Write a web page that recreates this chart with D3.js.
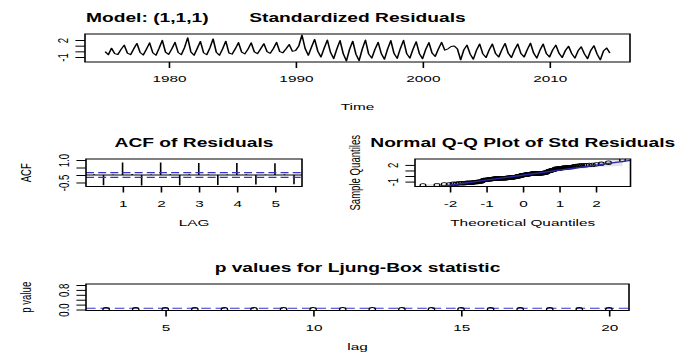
<!DOCTYPE html>
<html>
<head>
<meta charset="utf-8">
<script src="https://cdn.jsdelivr.net/npm/d3@7"></script>
<style>
    body { margin: 0; background: #fff; }
    svg { display: block; }
</style>
</head>
<body>
<svg id="chart" width="684" height="356"></svg>
<script>

/////// DATA
// standardized residuals, quarterly from 1975 Q1
const startYear = 1975;
const frequency = 4;
const stdResiduals = [
    -0.05, -0.60, 0.55, -0.40,
    -0.55, 0.35, 1.10, -0.30,
    -0.60, 0.45, 1.40, -0.20,
    -0.65, 0.40, 1.50, -0.25,
    -0.70, 0.55, 1.95, -0.15,
    -0.55, 0.45, 1.60, -0.20,
    -0.60, 0.65, 2.40, -0.10,
    -0.70, 0.50, 1.75, -0.25,
    -0.60, 0.60, 2.20, -0.15,
    -0.70, 0.45, 1.80, -0.30,
    -0.50, 0.45, 1.55, -0.15,
    -0.45, 0.40, 1.50, -0.10,
    -0.40, 0.45, 1.35, -0.05,
    -0.35, 0.50, 1.60, -0.05,
    -0.25, 0.45, 1.20, 0.00,
    0.15, 0.95, 2.88, 0.50,
    -0.70, 0.75, 2.10, 0.00,
    -1.00, 0.55, 2.00, -0.20,
    -1.30, 0.45, 1.90, -0.40,
    -1.70, 0.35, 1.80, -0.50,
    -1.65, 0.40, 2.00, -0.45,
    -1.20, 0.35, 1.60, -0.40,
    -1.40, 0.45, 1.90, -0.35,
    -1.25, 0.50, 1.95, -0.40,
    -1.20, 0.40, 1.70, -0.40,
    -1.30, 0.35, 1.55, -0.30,
    -0.90, 0.45, 1.60, 0.20,
    0.45, 0.85, 0.95, 0.40,
    -1.50, 0.25, 1.10, -0.50,
    -1.40, 0.20, 1.30, -0.45,
    -1.10, 0.25, 1.30, -0.40,
    -1.00, 0.30, 1.40, -0.35,
    -1.10, 0.25, 1.30, -0.40,
    -1.00, 0.30, 1.45, -0.30,
    -1.20, 0.20, 1.30, -0.40,
    -1.00, 0.25, 1.10, -0.35,
    -1.10, 0.15, 0.90, -0.40,
    -1.20, 0.10, 0.80, -0.45,
    -1.30, 0.15, 1.00, -0.50,
    -1.50, 0.05, 0.60, -0.30
];
const timeTicks = [1980, 1990, 2000, 2010];
const resTicks = [-1, 0, 1, 2];
const resTickLabels = ["-1", "", "", "2"];

// ACF of residuals (lag in years)
const acfLags = [0.25, 0.5, 0.75, 1, 1.25, 1.5, 1.75, 2, 2.25, 2.5, 2.75,
                 3, 3.25, 3.5, 3.75, 4, 4.25, 4.5, 4.75, 5, 5.25, 5.5];
const acfValues = [0.05, -0.68, 0.03, 0.84, 0.06, -0.70, 0.04, 0.84, 0.05, -0.68, 0.05,
                   0.80, 0.04, -0.66, 0.03, 0.80, 0.05, -0.64, 0.04, 0.78, 0.05, -0.62];
const acfBound = 0.16;
const acfXTicks = [1, 2, 3, 4, 5];
const acfYTicks = [-0.5, 0, 0.5, 1];
const acfYLabels = ["-0.5", "", "", "1.0"];

// normal Q-Q
const qqXTicks = [-2, -1, 0, 1, 2];
const qqYTicks = [-1, 0, 1, 2];
const qqYLabels = ["-1", "", "", "2"];

// Ljung-Box
const lbLags = [3, 4, 5, 6, 7, 8, 9, 10, 11, 12, 13, 14, 15, 16, 17, 18, 19, 20];
const lbPValues = [0, 0, 0, 0, 0, 0, 0, 0, 0, 0, 0, 0, 0, 0, 0, 0, 0, 0];
const lbLevel = 0.05;
const lbXTicks = [5, 10, 15, 20];
const lbYTicks = [0, 0.2, 0.4, 0.6, 0.8, 1];
const lbYLabels = ["0.0", "", "", "", "0.8", ""];

/////// LAYOUT
// the picture is stretched sideways, so everything is drawn narrow and scaled back
const SX = 1.6;
const px = v => v / SX;
const FONT = '"Liberation Sans", Arial, sans-serif';
const FS = 9.6;
const FT = 12;
const BLUE = "#3434cc";

const BOX_RES = {x0: 85, x1: 630, y0: 34, y1: 62};
const BOX_ACF = {x0: 86, x1: 302, y0: 159, y1: 186.5};
const BOX_QQ = {x0: 415, x1: 630.5, y0: 159, y1: 186.5};
const BOX_LB = {x0: 86, x1: 629, y0: 284, y1: 310.5};

const svg = d3.select("#chart");
const root = svg.append("g").attr("transform", `scale(${SX},1)`);
let clipCount = 0;

function stretch(d) {
    const r = d[1] - d[0];
    return [d[0] - 0.04 * r, d[1] + 0.04 * r];
}

function panel(box, xDomain, yDomain) {
    const g = root.append("g");
    const x = d3.scaleLinear().domain(stretch(xDomain)).range([px(box.x0), px(box.x1)]);
    const y = d3.scaleLinear().domain(stretch(yDomain)).range([box.y1, box.y0]);
    const id = "clip" + (clipCount++);
    g.append("clipPath").attr("id", id).append("rect")
        .attr("x", px(box.x0)).attr("y", box.y0)
        .attr("width", px(box.x1 - box.x0)).attr("height", box.y1 - box.y0);
    const plot = g.append("g").attr("clip-path", `url(#${id})`);
    return {g, x, y, plot, box};
}

function drawBox(p) {
    p.g.append("rect")
        .attr("x", px(p.box.x0)).attr("y", p.box.y0)
        .attr("width", px(p.box.x1 - p.box.x0)).attr("height", p.box.y1 - p.box.y0)
        .attr("fill", "none").attr("stroke", "#000").attr("stroke-width", 1);
}

function bottomAxis(p, ticks, labels) {
    p.g.append("g")
        .attr("transform", `translate(0,${p.box.y1})`)
        .call(d3.axisBottom(p.x).tickValues(ticks).tickSize(6).tickPadding(7.2)
            .tickFormat((d, i) => labels ? labels[i] : d))
        .attr("font-size", FS).attr("font-family", FONT)
        .call(a => a.select(".domain").remove());
}

function leftAxis(p, ticks, labels) {
    p.g.append("g")
        .attr("transform", `translate(${px(p.box.x0)},0)`)
        .call(d3.axisLeft(p.y).tickValues(ticks).tickSize(6)
            .tickFormat((d, i) => labels[i]))
        .attr("font-size", FS).attr("font-family", FONT)
        .call(a => a.select(".domain").remove())
        .call(a => a.selectAll("text")
            .attr("transform", "rotate(-90)")
            .attr("x", 0).attr("y", -10.9).attr("dy", null)
            .attr("text-anchor", "middle"));
}

function title(p, txt) {
    root.append("text")
        .attr("x", px((p.box.x0 + p.box.x1) / 2)).attr("y", p.box.y0 - 12)
        .attr("text-anchor", "middle")
        .attr("font-family", FONT).attr("font-size", FT).attr("font-weight", "bold")
        .text(txt);
}

function xLabel(p, txt, gap) {
    root.append("text")
        .attr("x", px((p.box.x0 + p.box.x1) / 2)).attr("y", p.box.y1 + (gap || 40))
        .attr("text-anchor", "middle")
        .attr("font-family", FONT).attr("font-size", FS)
        .text(txt);
}

function yLabel(p, txt) {
    root.append("text")
        .attr("transform", `translate(${px(p.box.x0 - 61) + 3.45},${(p.box.y0 + p.box.y1) / 2}) rotate(-90)`)
        .attr("text-anchor", "middle")
        .attr("font-family", FONT).attr("font-size", FS)
        .text(txt);
}

/////// STANDARDIZED RESIDUALS
const times = stdResiduals.map((d, i) => startYear + i / frequency);
const res = panel(BOX_RES, d3.extent(times), d3.extent(stdResiduals));

res.plot.append("path")
    .datum(stdResiduals)
    .attr("fill", "none").attr("stroke", "#000").attr("stroke-width", 1)
    .attr("stroke-linejoin", "round")
    .attr("d", d3.line().x((d, i) => res.x(times[i])).y(d => res.y(d)));

bottomAxis(res, timeTicks);
leftAxis(res, resTicks, resTickLabels);
drawBox(res);
title(res, "Standardized Residuals");
root.append("text")
    .attr("x", px(BOX_RES.x0 + 1)).attr("y", BOX_RES.y0 - 12)
    .attr("font-family", FONT).attr("font-size", FT).attr("font-weight", "bold")
    .text("Model: (1,1,1)");
xLabel(res, "Time", 48);

/////// ACF
const acfLow = Math.min(d3.min(acfValues), -acfBound);
const acf = panel(BOX_ACF, d3.extent(acfLags), [acfLow, 1]);

acf.plot.selectAll("line.spike")
    .data(acfValues)
    .join("line")
    .attr("class", "spike")
    .attr("x1", (d, i) => acf.x(acfLags[i])).attr("x2", (d, i) => acf.x(acfLags[i]))
    .attr("y1", acf.y(0)).attr("y2", d => acf.y(d))
    .attr("stroke", "#000").attr("stroke-width", 1);

acf.plot.append("line")
    .attr("x1", px(BOX_ACF.x0)).attr("x2", px(BOX_ACF.x1))
    .attr("y1", acf.y(0)).attr("y2", acf.y(0))
    .attr("stroke", "#000").attr("stroke-width", 1);

acf.plot.selectAll("line.bound")
    .data([acfBound, -acfBound])
    .join("line")
    .attr("class", "bound")
    .attr("x1", px(BOX_ACF.x0)).attr("x2", px(BOX_ACF.x1))
    .attr("y1", d => acf.y(d)).attr("y2", d => acf.y(d))
    .attr("stroke", BLUE).attr("stroke-width", 1.1).attr("stroke-dasharray", "5,2.6");

bottomAxis(acf, acfXTicks);
leftAxis(acf, acfYTicks, acfYLabels);
drawBox(acf);
title(acf, "ACF of Residuals");
xLabel(acf, "LAG");
yLabel(acf, "ACF");

/////// NORMAL Q-Q
function qnorm(p) {
    const a = [-3.969683028665376e+01, 2.209460984245205e+02, -2.759285104469687e+02,
               1.383577518672690e+02, -3.066479806614716e+01, 2.506628277459239e+00];
    const b = [-5.447609879822406e+01, 1.615858368580409e+02, -1.556989798598866e+02,
               6.680131188771972e+01, -1.328068155288572e+01];
    const c = [-7.784894002430293e-03, -3.223964580411365e-01, -2.400758277161838e+00,
               -2.549732539343734e+00, 4.374664141464968e+00, 2.938163982698783e+00];
    const d = [7.784695709041462e-03, 3.224671290700398e-01, 2.445134137142996e+00,
               3.754408661907416e+00];
    const lo = 0.02425;
    let q, r;
    if (p < lo) {
        q = Math.sqrt(-2 * Math.log(p));
        return (((((c[0]*q+c[1])*q+c[2])*q+c[3])*q+c[4])*q+c[5]) / ((((d[0]*q+d[1])*q+d[2])*q+d[3])*q+1);
    }
    if (p > 1 - lo) {
        q = Math.sqrt(-2 * Math.log(1 - p));
        return -(((((c[0]*q+c[1])*q+c[2])*q+c[3])*q+c[4])*q+c[5]) / ((((d[0]*q+d[1])*q+d[2])*q+d[3])*q+1);
    }
    q = p - 0.5;
    r = q * q;
    return (((((a[0]*r+a[1])*r+a[2])*r+a[3])*r+a[4])*r+a[5])*q / (((((b[0]*r+b[1])*r+b[2])*r+b[3])*r+b[4])*r+1);
}
const dnorm = z => Math.exp(-z * z / 2) / Math.sqrt(2 * Math.PI);

const sorted = stdResiduals.slice().sort(d3.ascending);
const n = sorted.length;
const qqPoints = sorted.map((v, i) => {
    const pp = (i + 1 - 0.5) / n;
    return {p: pp, q: qnorm(pp), v: v};
});
const yq = [d3.quantile(sorted, 0.25), d3.quantile(sorted, 0.75)];
const xq = [qnorm(0.25), qnorm(0.75)];
const slope = (yq[1] - yq[0]) / (xq[1] - xq[0]);
const intercept = yq[0] - slope * xq[0];

const qq = panel(BOX_QQ, d3.extent(qqPoints, d => d.q), d3.extent(sorted));

qq.plot.append("path")
    .datum(qqPoints)
    .attr("fill", "#e4e4e4")
    .attr("d", d3.area()
        .x(d => qq.x(d.q))
        .y0(d => qq.y(intercept + slope * d.q - 1.96 * slope / dnorm(d.q) * Math.sqrt(d.p * (1 - d.p) / n)))
        .y1(d => qq.y(intercept + slope * d.q + 1.96 * slope / dnorm(d.q) * Math.sqrt(d.p * (1 - d.p) / n))));

qq.plot.selectAll("circle")
    .data(qqPoints)
    .join("circle")
    .attr("cx", d => qq.x(d.q)).attr("cy", d => qq.y(d.v))
    .attr("r", 1.8)
    .attr("fill", "none").attr("stroke", "#000").attr("stroke-width", 0.8);

const qqEnds = qq.x.domain();
qq.plot.append("line")
    .attr("x1", qq.x(qqEnds[0])).attr("y1", qq.y(intercept + slope * qqEnds[0]))
    .attr("x2", qq.x(qqEnds[1])).attr("y2", qq.y(intercept + slope * qqEnds[1]))
    .attr("stroke", "#2a2aa8").attr("stroke-width", 1.4);

bottomAxis(qq, qqXTicks);
leftAxis(qq, qqYTicks, qqYLabels);
drawBox(qq);
title(qq, "Normal Q-Q Plot of Std Residuals");
xLabel(qq, "Theoretical Quantiles");
yLabel(qq, "Sample Quantiles");

/////// LJUNG-BOX
const lb = panel(BOX_LB, d3.extent(lbLags), [0, 1]);

lb.plot.append("line")
    .attr("x1", px(BOX_LB.x0)).attr("x2", px(BOX_LB.x1))
    .attr("y1", lb.y(lbLevel)).attr("y2", lb.y(lbLevel))
    .attr("stroke", BLUE).attr("stroke-width", 1.1).attr("stroke-dasharray", "6,3");

lb.plot.selectAll("circle")
    .data(lbPValues)
    .join("circle")
    .attr("cx", (d, i) => lb.x(lbLags[i])).attr("cy", d => lb.y(d))
    .attr("r", 2)
    .attr("fill", "none").attr("stroke", "#000").attr("stroke-width", 0.8);

bottomAxis(lb, lbXTicks);
leftAxis(lb, lbYTicks, lbYLabels);
drawBox(lb);
title(lb, "p values for Ljung-Box statistic");
xLabel(lb, "lag");
yLabel(lb, "p value");

</script>
</body>
</html>
